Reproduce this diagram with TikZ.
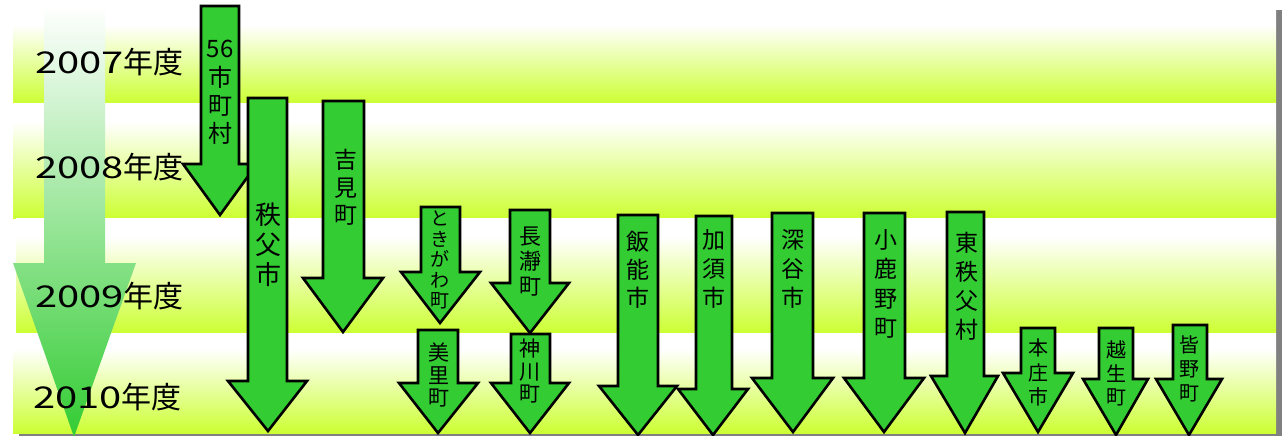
\documentclass[tikz,border=0pt]{standalone}
\usepackage{fontspec}
\setmainfont{Noto Sans CJK JP}
\usepackage{graphicx}
\definecolor{arrowgreen}{HTML}{33CC33}
\definecolor{bandgreen}{HTML}{CCFF33}
\definecolor{shadowgray}{HTML}{808080}
\pgfdeclareverticalshading{bandshade}{100bp}{color(0bp)=(bandgreen); color(25bp)=(bandgreen); color(67bp)=(white); color(100bp)=(white)}
\pgfdeclareverticalshading{bigarrowshade}{100bp}{color(0bp)=(arrowgreen); color(25bp)=(arrowgreen); color(75bp)=(white); color(100bp)=(white)}
\newcommand\garrow[8]{\draw[arrowbox] (#1,#3) -- (#2,#3) -- (#2,#4) -- (#6,#4) -- (#7,#8) -- (#5,#4) -- (#1,#4) -- cycle;}
\begin{document}
\begin{tikzpicture}[x=1pt,y=-1pt,
  arrowbox/.style={fill=arrowgreen, draw=black, line width=2.6pt, line join=miter},
  vlabel/.style={align=center, inner sep=0pt},
  year/.style={anchor=west, inner sep=0pt, font=\fontsize{30}{30}\selectfont}]
\useasboundingbox (0,0) rectangle (1284,436);
% bands
\foreach \l/\t/\b in {13/10/103, 13/103/218, 16/218/333, 13/333/433} {
  \fill[shadowgray] (\l+6,\t) rectangle (1282,\b+4);
  \shade[shading=bandshade] (\l,\t) rectangle (1276,\b);
}
% big timeline arrow
\shade[shading=bigarrowshade] (44,5) -- (105,5) -- (105,263) -- (136,263) -- (74,437) -- (13,263) -- (44,263) -- cycle;
% year labels
\node[year] (y2007) at (35,62) {\scalebox{1.33}[1]{2007}年度};
\node[year] (y2008) at (35,167) {\scalebox{1.33}[1]{2008}年度};
\node[year] (y2009) at (35,296) {\scalebox{1.33}[1]{2009}年度};
\node[year] (y2010) at (33,397) {\scalebox{1.33}[1]{2010}年度};
% arrows
\garrow{201}{239}{6}{164}{183}{257}{220}{215}
\node[vlabel, font=\fontsize{24}{28.3}\selectfont] (t56) at (220,92.5) {56\\市\\町\\村};
\garrow{248}{287}{98}{381}{228}{307}{268}{431}
\node[vlabel, font=\fontsize{26}{30}\selectfont] (tchichibu) at (268,245) {秩\\父\\市};
\garrow{323}{364}{101}{278}{303}{383}{343}{332}
\node[vlabel, font=\fontsize{23}{27.5}\selectfont] (tyoshimi) at (346,187.5) {吉\\見\\町};
\garrow{421}{460}{207}{272}{401}{480}{440}{323}
\node[vlabel, font=\fontsize{19}{20.5}\selectfont] (ttokigawa) at (440,260) {と\\き\\が\\わ\\町};
\garrow{510}{550}{210}{283}{491}{569}{530}{333}
\node[vlabel, font=\fontsize{22}{25}\selectfont] (tnagatoro) at (530,262) {長\\瀞\\町};
\garrow{418}{458}{330}{383}{399}{478}{438}{433}
\node[vlabel, font=\fontsize{21}{22.5}\selectfont] (tmisato) at (439,375) {美\\里\\町};
\garrow{511}{550}{334}{383}{491}{569}{530}{433}
\node[vlabel, font=\fontsize{21}{22.5}\selectfont] (tkamikawa) at (530,371.5) {神\\川\\町};
\garrow{618}{658}{215}{386}{599}{677}{638}{435}
\node[vlabel, font=\fontsize{23}{28}\selectfont] (thanno) at (638,270) {飯\\能\\市};
\garrow{696}{732}{216}{389}{678}{748}{713}{435}
\node[vlabel, font=\fontsize{23}{29}\selectfont] (tkazo) at (714,269) {加\\須\\市};
\garrow{772}{813}{213}{378}{752}{833}{793}{432}
\node[vlabel, font=\fontsize{23}{29}\selectfont] (tfukaya) at (793,269) {深\\谷\\市};
\garrow{864}{905}{213}{378}{844}{924}{884}{432}
\node[vlabel, font=\fontsize{23}{29.3}\selectfont] (togano) at (886,284) {小\\鹿\\野\\町};
\garrow{947}{984}{212}{376}{931}{998}{965}{433}
\node[vlabel, font=\fontsize{23}{29}\selectfont] (thigashi) at (967,286.5) {東\\秩\\父\\村};
\garrow{1021}{1055}{328}{373}{1003}{1073}{1038}{432}
\node[vlabel, font=\fontsize{20}{24.5}\selectfont] (thonjo) at (1038,372.5) {本\\庄\\市};
\garrow{1099}{1133}{328}{379}{1083}{1148}{1116}{435}
\node[vlabel, font=\fontsize{20}{23.5}\selectfont] (togose) at (1116,373.5) {越\\生\\町};
\garrow{1173}{1207}{325}{379}{1156}{1222}{1189}{435}
\node[vlabel, font=\fontsize{20}{24}\selectfont] (tminano) at (1189,369) {皆\\野\\町};
\end{tikzpicture}
\end{document}
